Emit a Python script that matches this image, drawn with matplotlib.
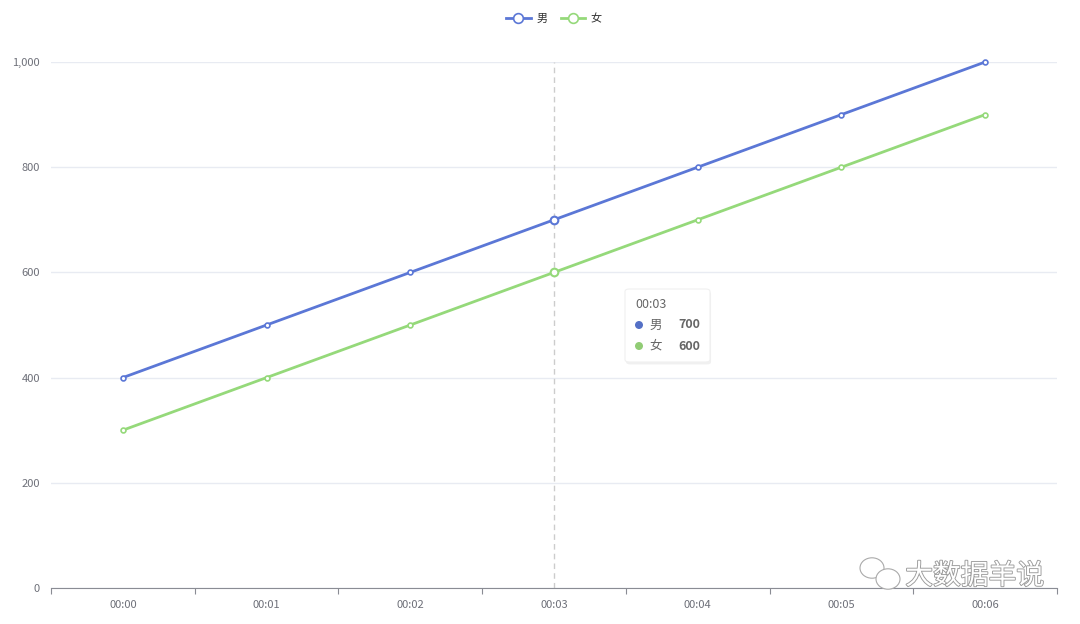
import matplotlib.pyplot as plt
import matplotlib.patheffects as pe
from matplotlib.patches import FancyBboxPatch, Ellipse

plt.rcParams['font.family'] = ['Noto Sans CJK SC', 'DejaVu Sans']

# data
times = ['00:00', '00:01', '00:02', '00:03', '00:04', '00:05', '00:06']
male = [400, 500, 600, 700, 800, 900, 1000]
female = [300, 400, 500, 600, 700, 800, 900]
names = ['男', '女']
colors = ['#5b77d6', '#95d97a']
dot_colors = ['#5470c6', '#91cc75']
hover = 3

fig = plt.figure(figsize=(10.8, 6.24), dpi=100)
ax = fig.add_axes([51/1080, 36/624, 1006/1080, 526/624])

x = list(range(len(times)))
handles = []
for vals, c in zip([male, female], colors):
    h, = ax.plot(x, vals, color=c, lw=2, marker='o', ms=3.5, mfc='white',
                 mec=c, mew=1.2, zorder=3, clip_on=False)
    handles.append(h)
    ax.plot([hover], [vals[hover]], marker='o', ms=5.5, mfc='white',
            mec=c, mew=1.5, zorder=4)

ax.set_xlim(-0.5, len(times) - 0.5)
ax.set_ylim(0, 1000)
ax.set_yticks([0, 200, 400, 600, 800, 1000])
ax.set_yticklabels(['0', '200', '400', '600', '800', '1,000'])
ax.grid(axis='y', color='#e8ebf2', lw=1)
ax.set_axisbelow(True)

ax.set_xticks([i - 0.5 for i in range(len(times) + 1)])
ax.set_xticklabels([])
ax.set_xticks(x, minor=True)
ax.set_xticklabels(times, minor=True)
ax.tick_params(axis='x', which='major', length=4, color='#8a8c94', width=0.8)
ax.tick_params(axis='x', which='minor', length=0, pad=9, labelsize=8, labelcolor='#6e7079')
ax.tick_params(axis='y', length=0, pad=8, labelsize=8, labelcolor='#6e7079')

for s in ['top', 'right', 'left']:
    ax.spines[s].set_visible(False)
ax.spines['bottom'].set_color('#8a8c94')

# hover line
ax.axvline(hover, color='#cccccc', lw=1, ls=(0, (4, 3)), zorder=1)

# legend
leg = ax.legend(handles, names, loc='center', bbox_to_anchor=(0.5, 1 + 43/526), ncol=2,
                frameon=False, fontsize=8, handlelength=2.2, handletextpad=0.5,
                columnspacing=1.2, markerscale=2.0)
for t in leg.get_texts():
    t.set_color('#333333')

# tooltip
tx, ty, tw, th = 625/1080, 1 - 362/624, 85/1080, 73/624
shadow = FancyBboxPatch((tx + 0.001, ty - 0.004), tw, th, boxstyle='round,pad=0,rounding_size=0.004',
                        transform=fig.transFigure, fc='#000000', alpha=0.06, ec='none')
box = FancyBboxPatch((tx, ty), tw, th, boxstyle='round,pad=0,rounding_size=0.004',
                     transform=fig.transFigure, fc='white', ec='#f0f0f0', lw=0.8)
fig.patches.extend([shadow, box])
fig.text(635/1080, 1 - 304/624, times[hover], fontsize=9, color='#666666', va='center')
for i, (nm, vals) in enumerate(zip(names, [male, female])):
    yy = 1 - (325 + 21 * i)/624
    fig.patches.append(Ellipse((639/1080, yy), 8/1080, 8/624, transform=fig.transFigure,
                               fc=dot_colors[i], ec='none'))
    fig.text(649/1080, yy, nm, fontsize=9, color='#666666', va='center')
    fig.text(700/1080, yy, str(vals[hover]), fontsize=9, color='#666666',
             va='center', ha='right', fontweight='bold')

# watermark
fig.text(1044/1080, 1 - 576/624, '大数据羊说', fontsize=20, color='white', ha='right',
         va='center', path_effects=[pe.withStroke(linewidth=1.3, foreground='#9a9a9a')])
for cx, cy, r in [(872, 568, 12), (888, 579, 12)]:
    fig.patches.append(Ellipse((cx/1080, 1 - cy/624), 2*r/1080, 1.7*r/624,
                               transform=fig.transFigure, fc='white', ec='#aaaaaa', lw=0.8))

fig.savefig('out.png', dpi=100)
